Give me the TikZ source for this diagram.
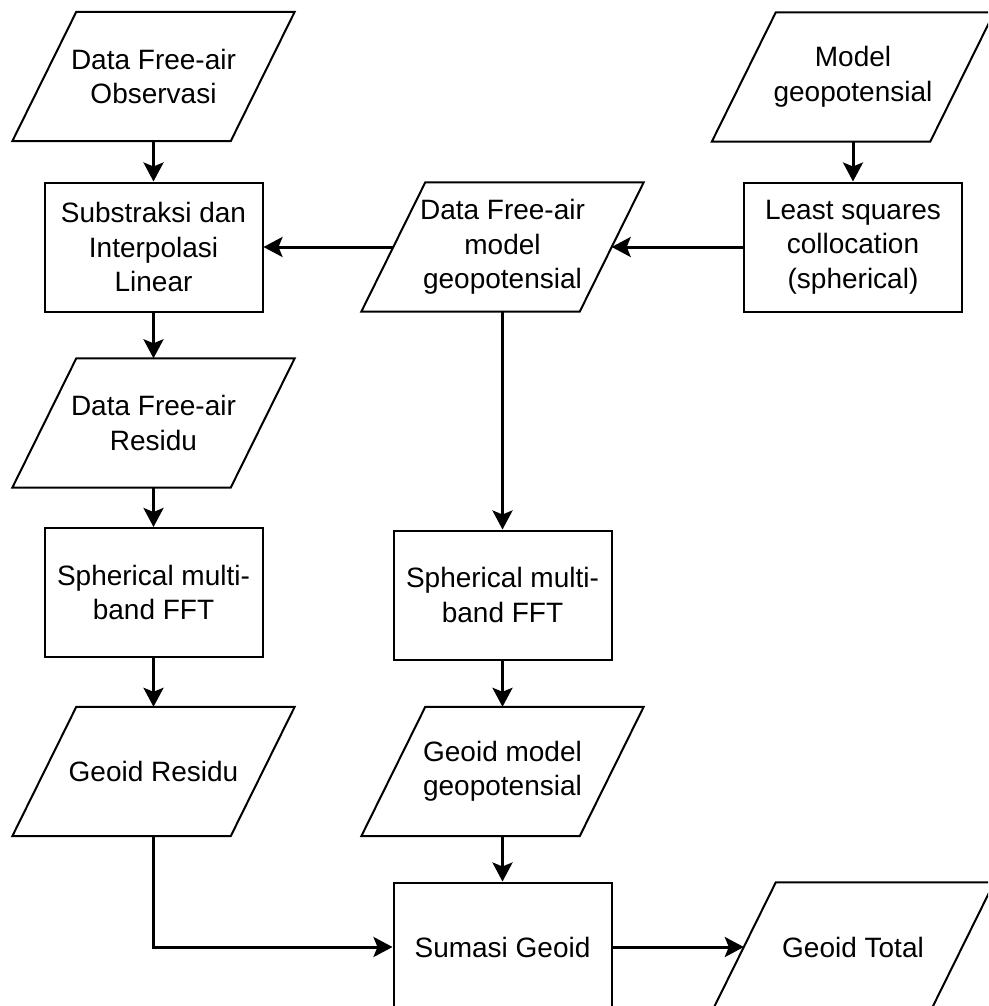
\documentclass[tikz,border=0pt]{standalone}
\usepackage{fontspec}
\setmainfont{Liberation Sans}
\usetikzlibrary{arrows.meta}
\begin{document}
\begin{tikzpicture}[x=1pt,y=-1pt,
  every node/.style={font=\fontsize{28}{34.5}\selectfont, align=center, inner sep=0pt,
    minimum width=218pt, minimum height=129pt},
  boxnode/.style={draw=black, line width=2pt},
  paranode/.style={draw=none},
  shapeline/.style={draw=black, line width=2pt, line join=miter},
  conn/.style={draw=black, line width=3pt, -{Stealth[length=19pt,width=20pt,inset=4pt]}}
]
\useasboundingbox (0,0) rectangle (988,1006);
\clip (0,0) rectangle (988,1006);

% nodes
\node[paranode] (p1)  at (153.5,76.5) {Data Free-air\\Observasi};
\node[paranode] (pm)  at (853,77)     {Model\\geopotensial};
\node[boxnode]  (b1)  at (153.5,247)  {Substraksi dan\\Interpolasi\\Linear};
\node[paranode] (fam) at (502.5,247)  {Data Free-air\\model\\geopotensial};
\node[boxnode]  (lsc) at (853,247)    {Least squares\\collocation\\(spherical)};
\node[paranode] (res) at (153.5,423)  {Data Free-air\\Residu};
\node[boxnode]  (spl) at (153.5,592.5){Spherical multi-\\band FFT};
\node[boxnode]  (spm) at (502.5,595)  {Spherical multi-\\band FFT};
\node[paranode] (gr)  at (153.5,771.5){Geoid Residu};
\node[paranode] (gm)  at (502.5,771.5){Geoid model\\geopotensial};
\node[boxnode]  (sum) at (502.5,947)  {Sumasi Geoid};
\node[paranode] (gt)  at (853,947)    {Geoid Total};

% parallelogram outlines
\foreach \n in {p1,pm,fam,res,gr,gm,gt}{
  \draw[shapeline] ([xshift=32pt]\n.north west) -- ([xshift=32pt]\n.north east)
    -- ([xshift=-32pt]\n.south east) -- ([xshift=-32pt]\n.south west) -- cycle;
}

% connectors
\draw[conn] (p1.south) -- (b1.north);
\draw[conn] (pm.south) -- (lsc.north);
\draw[conn] (lsc.west) -- (fam.east);
\draw[conn] (fam.west) -- (b1.east);
\draw[conn] (b1.south) -- (res.north);
\draw[conn] (res.south) -- (spl.north);
\draw[conn] (fam.south) -- (spm.north);
\draw[conn] (spl.south) -- (gr.north);
\draw[conn] (spm.south) -- (gm.north);
\draw[conn] (gm.south) -- (sum.north);
\draw[conn] (gr.south) |- (sum.west);
\draw[conn] (sum.east) -- (gt.west);
\end{tikzpicture}
\end{document}
